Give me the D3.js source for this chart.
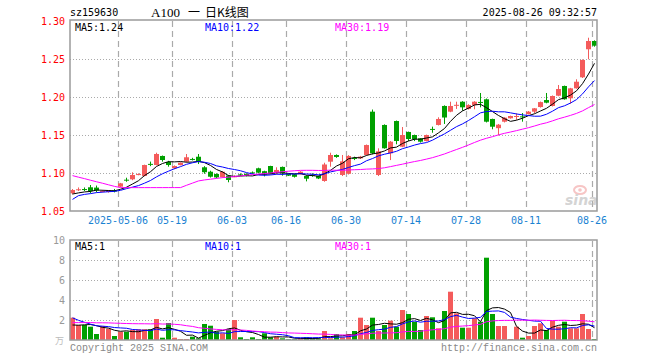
<!DOCTYPE html>
<html><head><meta charset="utf-8">
<script src="https://cdn.jsdelivr.net/npm/d3@7"></script>
<style>body{margin:0;background:#fff}svg{display:block}</style>
</head><body><svg id="chart" width="660" height="360"></svg>
<script>
const symbol = "sz159630";
const titleParts = ["A100", "一", "日K线图"];
const stamp = "2025-08-26 09:32:57";

const dates = [
"2025-04-21","2025-04-22","2025-04-23","2025-04-24","2025-04-25","2025-04-28","2025-04-29","2025-04-30",
"2025-05-06","2025-05-07","2025-05-08","2025-05-09","2025-05-12","2025-05-13","2025-05-14","2025-05-15","2025-05-16",
"2025-05-19","2025-05-20","2025-05-21","2025-05-22","2025-05-23","2025-05-26","2025-05-27","2025-05-28","2025-05-29","2025-05-30",
"2025-06-03","2025-06-04","2025-06-05","2025-06-06","2025-06-09","2025-06-10","2025-06-11","2025-06-12","2025-06-13",
"2025-06-16","2025-06-17","2025-06-18","2025-06-19","2025-06-20","2025-06-23","2025-06-24","2025-06-25","2025-06-26","2025-06-27",
"2025-06-30","2025-07-01","2025-07-02","2025-07-03","2025-07-04","2025-07-07","2025-07-08","2025-07-09","2025-07-10","2025-07-11",
"2025-07-14","2025-07-15","2025-07-16","2025-07-17","2025-07-18","2025-07-21","2025-07-22","2025-07-23","2025-07-24","2025-07-25",
"2025-07-28","2025-07-29","2025-07-30","2025-07-31","2025-08-01","2025-08-04","2025-08-05","2025-08-06","2025-08-07","2025-08-08",
"2025-08-11","2025-08-12","2025-08-13","2025-08-14","2025-08-15","2025-08-18","2025-08-19","2025-08-20","2025-08-21","2025-08-22",
"2025-08-25","2025-08-26"];

const open = [
1.0733,1.0780,1.0789,1.0812,1.0808,1.0758,1.0750,1.0770,1.0820,1.0912,
1.0917,1.0980,1.0961,1.1120,1.1105,1.1224,1.1145,1.1062,1.1105,1.1149,
1.1185,1.1214,1.1075,1.1017,1.0987,1.0945,1.0967,1.0950,1.0982,1.0990,
1.1008,1.1062,1.1024,1.1092,1.1010,1.1080,1.0987,1.0983,1.0983,1.0961,
1.0978,1.0961,1.0895,1.1149,1.1237,1.0974,1.0990,1.1198,1.1193,1.1237,
1.1807,1.0974,1.1632,1.1259,1.1684,1.1346,1.1540,1.1500,1.1456,1.1421,
1.1580,1.1632,1.1882,1.1807,1.1890,1.1938,1.1843,1.1895,1.1935,1.1970,
1.1711,1.1590,1.1675,1.1720,1.1745,1.1745,1.1776,1.1807,1.1868,1.1960,
1.1882,1.2017,1.2145,1.1983,1.2114,1.2259,1.2628,1.2737];
const high = [
1.0789,1.0810,1.0810,1.0842,1.0835,1.0776,1.0776,1.0790,1.0870,1.0938,
1.1009,1.0995,1.1110,1.1150,1.1267,1.1230,1.1160,1.1100,1.1140,1.1250,
1.1200,1.1250,1.1090,1.1030,1.0995,1.1025,1.0975,1.0970,1.0995,1.0995,
1.1020,1.1070,1.1030,1.1095,1.1075,1.1085,1.0995,1.0990,1.1025,1.0970,
1.0995,1.0965,1.1135,1.1267,1.1245,1.1237,1.1235,1.1215,1.1225,1.1375,
1.1835,1.1325,1.1640,1.1420,1.1690,1.1605,1.1545,1.1505,1.1460,1.1505,
1.1610,1.1733,1.1890,1.1938,1.1938,1.1945,1.1905,1.1945,1.2053,1.1980,
1.1715,1.1645,1.1735,1.1755,1.1785,1.1789,1.1815,1.1855,1.1940,1.2053,
1.2020,1.2158,1.2150,1.2120,1.2233,1.2495,1.2780,1.2745];
const low = [
1.0720,1.0763,1.0763,1.0733,1.0745,1.0745,1.0741,1.0745,1.0812,1.0885,
1.0905,1.0970,1.0955,1.1090,1.1100,1.1149,1.1083,1.1050,1.1100,1.1140,
1.1165,1.1118,1.0990,1.0940,1.0930,1.0940,1.0878,1.0945,1.0965,1.0955,
1.0990,1.0995,1.0955,1.0985,1.0980,1.0965,1.0960,1.0940,1.0980,1.0890,
1.0950,1.0920,1.0885,1.1083,1.1200,1.0960,1.0980,1.1170,1.1185,1.1230,
1.1245,1.0960,1.1320,1.1170,1.1378,1.1340,1.1420,1.1420,1.1400,1.1415,
1.1530,1.1625,1.1645,1.1800,1.1843,1.1820,1.1835,1.1838,1.1864,1.1665,
1.1575,1.1495,1.1665,1.1715,1.1700,1.1675,1.1770,1.1785,1.1860,1.1917,
1.1875,1.2010,1.1965,1.1913,1.2110,1.2250,1.2496,1.2662];
const close = [
1.0776,1.0786,1.0783,1.0763,1.0770,1.0763,1.0768,1.0765,1.0864,1.0905,
1.0974,1.0986,1.1105,1.1114,1.1250,1.1171,1.1105,1.1092,1.1136,1.1207,
1.1180,1.1149,1.1010,1.0951,1.0942,1.1017,1.0908,1.0957,1.0977,1.0961,
1.1003,1.1004,1.0980,1.0990,1.1040,1.0996,1.0965,1.0950,1.1017,1.0925,
1.0972,1.0928,1.1112,1.1237,1.1211,1.1153,1.1224,1.1193,1.1215,1.1368,
1.1259,1.1285,1.1325,1.1412,1.1421,1.1500,1.1447,1.1443,1.1412,1.1500,
1.1575,1.1711,1.1730,1.1882,1.1897,1.1864,1.1895,1.1938,1.1925,1.1675,
1.1609,1.1636,1.1728,1.1750,1.1750,1.1740,1.1807,1.1851,1.1933,1.1925,
1.2013,1.2105,1.1970,1.2114,1.2201,1.2487,1.2737,1.2675];
// volume, 万手
const volume = [
2.23,1.5,1.5,1.33,0.6,1.4,1.13,0.4,0.83,0.83,
1.0,1.07,1.07,1.07,2.1,0.23,1.7,0.23,0.1,0.1,
0.33,0.17,1.6,1.43,0.83,0.67,1.1,2.0,0.27,0.1,
0.27,0.1,0.67,0.27,0.33,0.17,0.07,0.07,0.17,0.27,
0.17,0.17,0.9,0.17,0.6,0.27,0.6,0.9,2.23,1.5,
2.23,0.9,1.5,1.93,1.33,3.0,2.6,1.83,1.0,2.4,
2.27,1.17,2.9,4.83,2.67,1.23,1.23,2.17,1.83,8.23,
2.6,1.4,1.4,0.1,1.33,0.23,0.4,1.4,1.67,1.0,
1.93,1.33,1.83,1.17,1.17,2.6,1.1,0.1];
// sessions before the visible window (feed the moving averages)
const priorClose = [1.140,1.136,1.139,1.137,1.135,1.139,1.138,1.136,1.091,1.097,1.099,1.110,1.111,1.125,1.117,1.110,1.109,1.114,1.030,1.031,1.029,1.062,1.066,1.064,1.070,1.071,1.072,1.073,1.068];
const priorVolume = [1.3,1.4,1.2,1.5,1.3,1.4,1.2,1.3,1.5,1.4,1.3,1.2,1.4,1.5,1.3,1.4,1.3,1.4,3.0,2.5,4.0,3.5,3.2,2.2,1.8,1.6,1.3,1.2,1.17];

const priceTicks = [1.05,1.10,1.15,1.20,1.25,1.30];
const volumeTicks = [2,4,6,8,10];
const dateTicks = ["2025-05-06","2025-05-19","2025-06-03","2025-06-16","2025-06-30","2025-07-14","2025-07-28","2025-08-11","2025-08-26"];
const dateTickLabels = ["2025-05-06","05-19","06-03","06-16","06-30","07-14","07-28","08-11","08-26"];
const maPeriods = [5,10,30];
const maColors = ["#000000","#0000ff","#ff00ff"];

const UP = "#f45b5b", DOWN = "#00a000";
const mono = "'DejaVu Sans Mono', monospace";
const courier = "'Liberation Mono', 'DejaVu Sans Mono', monospace";

const svg = d3.select("#chart");
const L = 70, R = 597, PT = 20, PB = 211, VT = 240, VB = 340;

const x = d3.scaleBand().domain(dates).range([L, R]).paddingInner(1/6);
const bw = x.bandwidth();
const yP = d3.scaleLinear().domain([1.05, 1.30]).range([PB, PT + 1]);
const yV = d3.scaleLinear().domain([0, 10]).range([VB, VT]);

function movingAverage(prior, values, n) {
  const all = prior.concat(values), off = prior.length;
  return values.map((_, i) => d3.mean(all.slice(off + i - n + 1, off + i + 1)));
}
const priceMA = maPeriods.map(n => movingAverage(priorClose, close, n));
const volMA = maPeriods.map(n => movingAverage(priorVolume, volume, n));

svg.append("defs").append("clipPath").attr("id","clipP").append("rect").attr("x",L).attr("y",PT).attr("width",R-L).attr("height",PB-PT);
svg.select("defs").append("clipPath").attr("id","clipV").append("rect").attr("x",L).attr("y",VT).attr("width",R-L).attr("height",VB-VT);

// header
svg.append("text").attr("x", L).attr("y", 16).attr("font-family", mono).attr("font-size", 10).attr("fill","#000").text(symbol);
const titleX = [151, 188, 205];
titleParts.forEach((t, k) => {
  svg.append("text").attr("x", titleX[k]).attr("y", 16.5)
    .attr("font-family", k === 0 ? "'Liberation Serif',serif" : "'Noto Sans CJK SC',sans-serif")
    .attr("font-size", k === 0 ? 13 : 12).attr("fill","#000").text(t);
});
svg.append("text").attr("x", R).attr("y", 16).attr("text-anchor","end").attr("font-family", mono).attr("font-size", 10).attr("fill","#000").text(stamp);

// grid lines
const gP = svg.append("g");
gP.selectAll("line.h").data(priceTicks.filter(t => t > 1.05 && t < 1.30)).join("line")
  .attr("x1", L).attr("x2", R).attr("y1", d => Math.round(yP(d)) + 0.5).attr("y2", d => Math.round(yP(d)) + 0.5)
  .attr("stroke", "#aaa").attr("stroke-dasharray", "1,2");
const gV = svg.append("g");
gV.selectAll("line.h").data(volumeTicks.filter(t => t < 10)).join("line")
  .attr("x1", L).attr("x2", R).attr("y1", d => Math.round(yV(d)) + 0.5).attr("y2", d => Math.round(yV(d)) + 0.5)
  .attr("stroke", "#aaa").attr("stroke-dasharray", "1,2");
[[PT, PB], [VT, VB]].forEach(([a, b]) => {
  svg.append("g").selectAll("line").data(dateTicks).join("line")
    .attr("x1", d => x(d) + 0.5).attr("x2", d => x(d) + 0.5).attr("y1", a + 1).attr("y2", b)
    .attr("stroke", "#aaa").attr("stroke-width", 1.2).attr("stroke-dasharray", "6,4");
});

// axes
const axP = svg.append("g").attr("transform", `translate(${L},0)`)
  .call(d3.axisLeft(yP).tickValues(priceTicks).tickSize(0).tickPadding(5).tickFormat(d3.format(".2f")));
axP.select(".domain").remove();
axP.selectAll("text").attr("fill", "#ff0000").attr("font-family", mono).attr("font-size", 10);
const axV = svg.append("g").attr("transform", `translate(${L},0)`)
  .call(d3.axisLeft(yV).tickValues(volumeTicks).tickSize(0).tickPadding(5).tickFormat(d3.format("d")));
axV.select(".domain").remove();
axV.selectAll("text").attr("fill", "#999").attr("font-family", mono).attr("font-size", 10);
svg.append("text").attr("x", 64).attr("y", 344).attr("text-anchor","end").attr("font-family","'Noto Sans CJK SC',sans-serif").attr("font-size", 9).attr("fill","#bbb").text("万");

svg.append("g").selectAll("text").data(dateTicks).join("text")
  .attr("x", (d) => x(d)).attr("y", 224).attr("text-anchor", "middle")
  .attr("font-family", mono).attr("font-size", 10).attr("fill", "#1a82d2")
  .text((d, i) => dateTickLabels[i]);

// watermark
const wm = svg.append("g").attr("opacity", 0.6);
wm.append("ellipse").attr("cx", 580).attr("cy", 190).attr("rx", 6).attr("ry", 4).attr("fill","none").attr("stroke","#f2a0a0").attr("stroke-width", 2);
wm.append("circle").attr("cx", 580).attr("cy", 190).attr("r", 1.8).attr("fill","#f2a0a0");
wm.append("text").attr("x", 565).attr("y", 205).attr("font-family","'DejaVu Sans',sans-serif").attr("font-style","italic").attr("font-weight","bold").attr("font-size", 14).attr("fill","#b8b8b8").text("sina");

// candles
const idx = d3.range(dates.length);
const up = i => close[i] >= open[i];
const cg = svg.append("g").attr("clip-path","url(#clipP)");
cg.selectAll("line.w").data(idx).join("line")
  .attr("x1", i => x(dates[i]) + bw / 2).attr("x2", i => x(dates[i]) + bw / 2)
  .attr("y1", i => yP(high[i])).attr("y2", i => yP(low[i]))
  .attr("stroke", i => up(i) ? UP : DOWN).attr("stroke-width", 1);
cg.selectAll("rect").data(idx).join("rect")
  .attr("x", i => x(dates[i])).attr("width", bw)
  .attr("y", i => yP(Math.max(open[i], close[i])))
  .attr("height", i => Math.max(1, Math.abs(yP(open[i]) - yP(close[i]))))
  .attr("fill", i => up(i) ? UP : DOWN);

// price MAs
const mg = svg.append("g").attr("clip-path","url(#clipP)");
priceMA.forEach((ma, k) => {
  mg.append("path").datum(idx).attr("fill","none").attr("stroke", maColors[k]).attr("stroke-width", 1)
    .attr("d", d3.line().x(i => x(dates[i]) + bw / 2).y(i => yP(ma[i])));
});

// volume bars
const vg = svg.append("g").attr("clip-path","url(#clipV)");
vg.selectAll("rect").data(idx).join("rect")
  .attr("x", i => x(dates[i])).attr("width", bw)
  .attr("y", i => yV(volume[i])).attr("height", i => yV(0) - yV(volume[i]))
  .attr("fill", i => up(i) ? UP : DOWN);
volMA.forEach((ma, k) => {
  vg.append("path").datum(idx).attr("fill","none").attr("stroke", maColors[k]).attr("stroke-width", 1)
    .attr("d", d3.line().x(i => x(dates[i]) + bw / 2).y(i => yV(ma[i])));
});

// frames
[[PT, PB], [VT, VB]].forEach(([a, b]) => {
  svg.append("rect").attr("x", L).attr("y", a).attr("width", R - L).attr("height", b - a)
    .attr("fill","none").attr("stroke","#9a9a9a").attr("stroke-width", 1.5);
});

// MA legends
const last = dates.length - 1;
const legX = [75, 205, 335];
maPeriods.forEach((n, k) => {
  svg.append("text").attr("x", legX[k]).attr("y", 30.5).attr("font-family", mono).attr("font-size", 10)
    .attr("fill", maColors[k]).text(`MA${n}:${d3.format(".2f")(priceMA[k][last])}`);
  svg.append("text").attr("x", legX[k]).attr("y", 250).attr("font-family", mono).attr("font-size", 10)
    .attr("fill", maColors[k]).text(`MA${n}:${Math.floor(volMA[k][last])}`);
});

// footer
svg.append("text").attr("x", L).attr("y", 351).attr("font-family", courier).attr("font-size", 10).attr("fill","#888").text("Copyright 2025 SINA.COM");
svg.append("text").attr("x", R).attr("y", 351).attr("text-anchor","end").attr("font-family", courier).attr("font-size", 10).attr("fill","#888").text("http://finance.sina.com.cn");
</script></body></html>
